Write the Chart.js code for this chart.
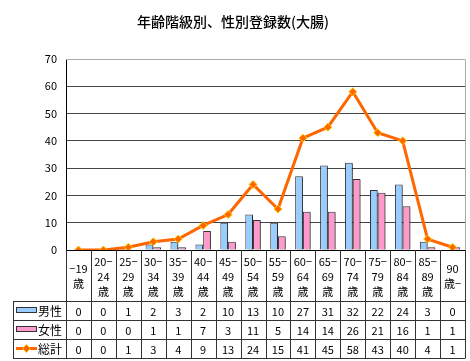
<!DOCTYPE html>
<html><head><meta charset="utf-8">
<script src="https://cdn.jsdelivr.net/npm/chart.js@4"></script>
<style>html,body{margin:0;padding:0;background:#fff}#wrap{width:470px;height:361px}</style>
</head><body><div id="wrap"><canvas id="c" width="470" height="361"></canvas></div>
<script>
const chartTitle = '年齢階級別、性別登録数(大腸)';
const categories = [['−19','歳'],['20−','24','歳'],['25−','29','歳'],['30−','34','歳'],['35−','39','歳'],['40−','44','歳'],['45−','49','歳'],['50−','54','歳'],['55−','59','歳'],['60−','64','歳'],['65−','69','歳'],['70−','74','歳'],['75−','79','歳'],['80−','84','歳'],['85−','89','歳'],['90','歳−']];
const seriesNames = ['男性','女性','総計'];
const male = [0,0,1,2,3,2,10,13,10,27,31,32,22,24,3,0];
const female = [0,0,0,1,1,7,3,11,5,14,14,26,21,16,1,1];
const total = [0,0,1,3,4,9,13,24,15,41,45,58,43,40,4,1];
const yMin = 0, yMax = 70, yStep = 10;

const FONT = '"Noto Sans CJK JP","Noto Sans",sans-serif';
const labels = categories.map(c => c.join(''));
const seriesData = [male, female, total];

const shadowPlugin = {
  id: 'shadow',
  beforeDatasetDraw(chart, args) {
    if (chart.data.datasets[args.index].type === 'bar') {
      const ctx = chart.ctx; ctx.save();
      ctx.shadowColor = 'rgba(0,0,0,0.35)'; ctx.shadowOffsetX = 2; ctx.shadowOffsetY = 1; ctx.shadowBlur = 0;
    }
  },
  afterDatasetDraw(chart, args) {
    if (chart.data.datasets[args.index].type === 'bar') chart.ctx.restore();
  }
};

const tablePlugin = {
  id: 'table',
  beforeDatasetsDraw(chart) {
    const ctx = chart.ctx, ca = chart.chartArea;
    ctx.save();
    ctx.strokeStyle = '#aaa'; ctx.lineWidth = 1;
    ctx.beginPath();
    ctx.moveTo(ca.left, Math.round(ca.top) + 0.5); ctx.lineTo(Math.round(ca.right) + 0.5, Math.round(ca.top) + 0.5);
    ctx.lineTo(Math.round(ca.right) + 0.5, Math.round(ca.bottom));
    ctx.stroke();
    ctx.restore();
  },
  afterDraw(chart) {
    const ctx = chart.ctx, xs = chart.scales.x, ca = chart.chartArea;
    const half = (xs.getPixelForValue(1) - xs.getPixelForValue(0)) / 2;
    const tableLeft = 13, rows = [301, 320, 339, 358];
    const right = Math.round(ca.right) + 0.5;
    ctx.save();
    // title
    ctx.fillStyle = '#000';
    ctx.font = '500 14px ' + FONT;
    ctx.textAlign = 'center'; ctx.textBaseline = 'middle';
    ctx.fillText(chartTitle, 233, 22);
    // grid of table
    ctx.strokeStyle = '#333'; ctx.lineWidth = 1;
    ctx.beginPath();
    for (let i = 0; i <= categories.length; i++) {
      const x = Math.round(i < categories.length ? xs.getPixelForValue(i) - half : xs.getPixelForValue(i - 1) + half) + 0.5;
      ctx.moveTo(x, ca.bottom); ctx.lineTo(x, rows[rows.length - 1]);
    }
    ctx.moveTo(tableLeft + 0.5, rows[0]); ctx.lineTo(tableLeft + 0.5, rows[rows.length - 1]);
    rows.forEach(y => { ctx.moveTo(tableLeft, y + 0.5); ctx.lineTo(right, y + 0.5); });
    ctx.stroke();
    // header labels
    ctx.font = '11px ' + FONT;
    const lh = 15, midH = (ca.bottom + rows[0]) / 2 + 1;
    categories.forEach((lines, i) => {
      const x = xs.getPixelForValue(i);
      const y0 = midH - (lines.length - 1) * lh / 2;
      lines.forEach((t, k) => ctx.fillText(t, x, y0 + k * lh));
    });
    // values
    seriesData.forEach((arr, r) => {
      const yc = (rows[r] + rows[r + 1]) / 2 + 1;
      arr.forEach((v, i) => ctx.fillText(String(v), xs.getPixelForValue(i), yc));
    });
    // legend keys
    ctx.textAlign = 'left';
    ctx.font = '12px ' + FONT;
    const cols = ['#99CCFF', '#FF99CC'];
    for (let r = 0; r < 3; r++) {
      const yc = (rows[r] + rows[r + 1]) / 2;
      if (r < 2) {
        ctx.fillStyle = cols[r]; ctx.strokeStyle = '#333';
        ctx.fillRect(16.5, Math.round(yc) - 3.5, 20, 5);
        ctx.strokeRect(16.5, Math.round(yc) - 3.5, 20, 5);
      } else {
        ctx.strokeStyle = '#FF6600'; ctx.lineWidth = 3;
        ctx.beginPath(); ctx.moveTo(16, yc); ctx.lineTo(37, yc); ctx.stroke();
        ctx.fillStyle = '#FF6600'; ctx.strokeStyle = '#FFCC00'; ctx.lineWidth = 1;
        ctx.beginPath(); ctx.moveTo(26.5, yc - 4); ctx.lineTo(30.5, yc); ctx.lineTo(26.5, yc + 4); ctx.lineTo(22.5, yc); ctx.closePath();
        ctx.fill(); ctx.stroke();
      }
      ctx.fillStyle = '#000';
      ctx.fillText(seriesNames[r], 38, yc + 1);
    }
    ctx.restore();
  }
};

new Chart(document.getElementById('c'), {
  data: {
    labels: labels,
    datasets: [
      { type: 'line', label: seriesNames[2], data: total, order: 0,
        borderColor: '#FF6600', borderWidth: 3, tension: 0,
        pointStyle: 'rectRot', pointRadius: 4, pointBackgroundColor: '#FF6600',
        pointBorderColor: '#FFCC00', pointBorderWidth: 1 },
      { type: 'bar', label: seriesNames[0], data: male, order: 1,
        backgroundColor: '#99CCFF', borderColor: '#333', borderWidth: 1,
        categoryPercentage: 0.62, barPercentage: 1 },
      { type: 'bar', label: seriesNames[1], data: female, order: 2,
        backgroundColor: '#FF99CC', borderColor: '#333', borderWidth: 1,
        categoryPercentage: 0.62, barPercentage: 1 }
    ]
  },
  options: {
    responsive: false, animation: false, devicePixelRatio: 1,
    layout: { padding: { left: 0, right: 4, top: 59, bottom: 111 } },
    plugins: { legend: { display: false }, title: { display: false }, tooltip: { enabled: false } },
    scales: {
      x: {
        ticks: { display: false },
        grid: { display: false, drawTicks: false },
        border: { display: true, color: '#000', width: 1 }
      },
      y: {
        min: yMin, max: yMax,
        ticks: { stepSize: yStep, color: '#000', padding: 9, font: { size: 11, family: FONT } },
        grid: { drawTicks: false, color: ctx => (ctx.tick && ctx.tick.value === yMax) ? 'rgba(0,0,0,0)' : '#444' },
        border: { display: true, color: '#000', width: 1 },
        afterFit: s => { s.width = 66; }
      }
    }
  },
  plugins: [shadowPlugin, tablePlugin]
});
</script>
</body></html>
